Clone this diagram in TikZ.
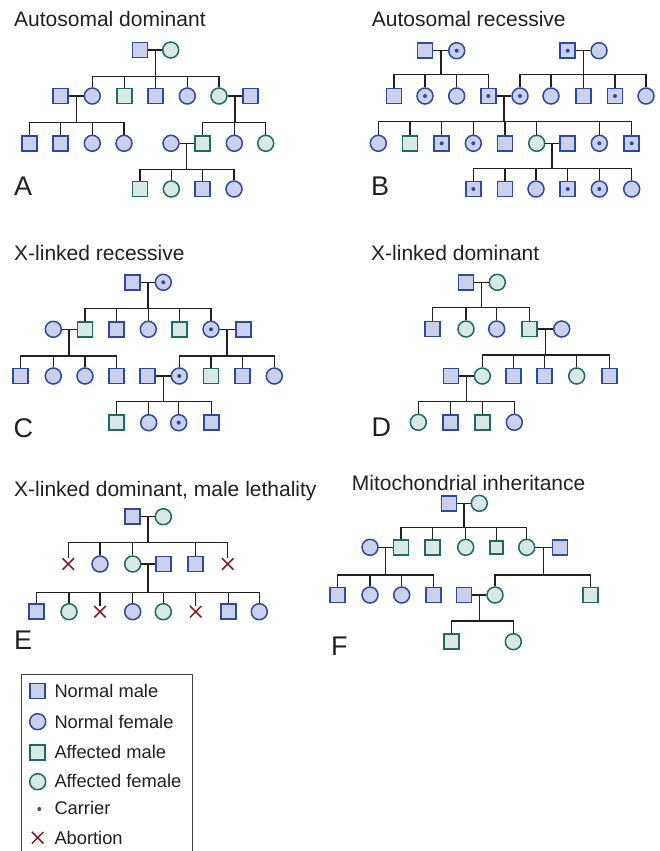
\documentclass[tikz,border=0pt]{standalone}
\usepackage{fontspec}
\setmainfont{Liberation Sans}
\usetikzlibrary{calc,shapes.misc}
\definecolor{lav}{HTML}{CBD0EC}
\definecolor{blu}{HTML}{2B4AA2}
\definecolor{tfill}{HTML}{D8E8E6}
\definecolor{tdraw}{HTML}{1E6B64}
\definecolor{lnc}{HTML}{231F20}
\definecolor{abr}{HTML}{8B1A22}
\tikzset{
 sym/.style={inner sep=0pt, line width=1.5pt},
 pnm/.style={sym, rectangle, minimum size=15pt, fill=lav, draw=blu},
 pnf/.style={sym, circle, minimum size=16pt, fill=lav, draw=blu},
 pam/.style={sym, rectangle, minimum size=15pt, fill=tfill, draw=tdraw},
 paf/.style={sym, circle, minimum size=16pt, fill=tfill, draw=tdraw},
 dotc/.style={path picture={\fill[blu] (path picture bounding box.center) circle (2pt);}},
 pcm/.style={pnm, dotc},
 pcf/.style={pnf, dotc},
 pab/.style={cross out, draw=abr, line width=1.5pt, inner sep=0pt, minimum size=10pt},
 conn/.style={draw=lnc, line width=1.5pt},
 ttl/.style={anchor=base west, inner sep=0pt, text=lnc, font=\fontsize{21}{25}\selectfont},
 plabel/.style={anchor=base west, inner sep=0pt, text=lnc, font=\fontsize{27}{30}\selectfont},
 leg/.style={anchor=base west, inner sep=0pt, text=lnc, font=\fontsize{18.3}{22}\selectfont},
}
\newcommand\pedfam[4]{%
 \draw[conn] (#1) -- (#2);
 \coordinate (#1m) at ($(#1)!0.5!(#2)$);
 \coordinate (#1y) at (0,#3);
 \coordinate (#1s) at (#1m |- #1y);
 \foreach \c in {#4} {\draw[conn] (#1m) -- (#1s) -| (\c);}
}
\begin{document}
\begin{tikzpicture}[x=1pt,y=-1pt]
\useasboundingbox (0,0) rectangle (660,851);
% titles
\node[ttl] (tA) at (14,27) {Autosomal dominant};
\node[ttl] (tB) at (371.7,26.7) {Autosomal recessive};
\node[ttl] (tC) at (14,260) {X-linked recessive};
\node[ttl] (tD) at (371,260) {X-linked dominant};
\node[ttl] (tE) at (14,496) {X-linked dominant, male lethality};
\node[ttl] (tF) at (351.7,490) {Mitochondrial inheritance};
\node[plabel] (lA) at (14,195.7) {A};
\node[plabel] (lB) at (371,195.7) {B};
\node[plabel] (lC) at (13.5,437) {C};
\node[plabel] (lD) at (371.5,436.7) {D};
\node[plabel] (lE) at (14,649) {E};
\node[plabel] (lF) at (331,655) {F};
% ---------- Panel A
\node[pnm] (a11) at (140,50) {};
\node[paf] (a12) at (170.7,50) {};
\node[pnm] (a21) at (60.7,96) {};
\node[pnf] (a22) at (92.3,96) {};
\node[pam] (a23) at (124.7,96) {};
\node[pnm] (a24) at (155.7,96) {};
\node[pnf] (a25) at (187.3,96) {};
\node[paf] (a26) at (219,96) {};
\node[pnm] (a27) at (250.7,96) {};
\node[pnm] (a31) at (29.3,143.3) {};
\node[pnm] (a32) at (60.7,143.3) {};
\node[pnf] (a33) at (92.3,143.3) {};
\node[pnf] (a34) at (124,143.3) {};
\node[pnf] (a35) at (171,143.3) {};
\node[pam] (a36) at (202.3,143.3) {};
\node[pnf] (a37) at (234.3,143.3) {};
\node[paf] (a38) at (265.7,143.3) {};
\node[pam] (a41) at (140,189) {};
\node[paf] (a42) at (171.3,189) {};
\node[pnm] (a43) at (202.7,189) {};
\node[pnf] (a44) at (234,189) {};
\pedfam{a11}{a12}{76.7}{a22,a23,a24,a25,a26}
\pedfam{a21}{a22}{122.7}{a31,a32,a33,a34}
\pedfam{a26}{a27}{122.7}{a36,a37,a38}
\pedfam{a35}{a36}{169.3}{a41,a42,a43,a44}
% ---------- Panel B
\node[pnm] (b11) at (425,50.7) {};
\node[pcf] (b12) at (456.7,50.7) {};
\node[pcm] (b13) at (567.7,50.7) {};
\node[pnf] (b14) at (599,50.7) {};
\node[pnm] (b21) at (394,96) {};
\node[pcf] (b22) at (425,96) {};
\node[pnf] (b23) at (456.7,96) {};
\node[pcm] (b24) at (488.3,96) {};
\node[pcf] (b25) at (520,96) {};
\node[pnf] (b26) at (551,96) {};
\node[pnm] (b27) at (583.3,96) {};
\node[pcm] (b28) at (615,96) {};
\node[pnf] (b29) at (646,96) {};
\node[pnf] (b31) at (378.3,143.3) {};
\node[pam] (b32) at (410,143.3) {};
\node[pcm] (b33) at (441.7,143.3) {};
\node[pcf] (b34) at (473.3,143.3) {};
\node[pnm] (b35) at (505,143.3) {};
\node[paf] (b36) at (536.7,143.3) {};
\node[pnm] (b37) at (567.7,143.3) {};
\node[pcf] (b38) at (599.3,143.3) {};
\node[pcm] (b39) at (631.7,143.3) {};
\node[pcm] (b41) at (473.3,189) {};
\node[pnm] (b42) at (505,189) {};
\node[pnf] (b43) at (536,189) {};
\node[pcm] (b44) at (567.7,189) {};
\node[pcf] (b45) at (599.3,189) {};
\node[pnf] (b46) at (631.7,189) {};
\pedfam{b11}{b12}{74.3}{b21,b22,b23,b24}
\pedfam{b13}{b14}{74.3}{b25,b26,b27,b28,b29}
\pedfam{b24}{b25}{121.7}{b31,b32,b33,b34,b35,b36,b38,b39}
\pedfam{b36}{b37}{168.3}{b41,b42,b43,b44,b45,b46}
% ---------- Panel C
\node[pnm] (c11) at (132.7,282.3) {};
\node[pcf] (c12) at (163.3,282.3) {};
\node[pnf] (c21) at (53.3,329.3) {};
\node[pam] (c22) at (85,329.3) {};
\node[pnm] (c23) at (116.7,329.3) {};
\node[pnf] (c24) at (148.3,329.3) {};
\node[pam] (c25) at (179.3,329.3) {};
\node[pcf] (c26) at (211,329.3) {};
\node[pnm] (c27) at (243.3,329.3) {};
\node[pnm] (c31) at (20.7,376) {};
\node[pnf] (c32) at (53.3,376) {};
\node[pnf] (c33) at (85,376) {};
\node[pnm] (c34) at (116.7,376) {};
\node[pnm] (c35) at (147.3,376) {};
\node[pcf] (c36) at (179.3,376) {};
\node[pam] (c37) at (211,376) {};
\node[pnm] (c38) at (242.3,376) {};
\node[pnf] (c39) at (274.3,376) {};
\node[pam] (c41) at (116.7,422.7) {};
\node[pnf] (c42) at (148.7,422.7) {};
\node[pcf] (c43) at (178.7,422.7) {};
\node[pnm] (c44) at (211.7,422.7) {};
\pedfam{c11}{c12}{308.7}{c22,c23,c24,c25,c26}
\pedfam{c21}{c22}{356}{c31,c32,c33,c34}
\pedfam{c26}{c27}{356}{c36,c37,c38,c39}
\pedfam{c35}{c36}{401.7}{c41,c42,c43,c44}
% ---------- Panel D
\node[pnm] (d11) at (466,282.3) {};
\node[paf] (d12) at (497.3,282.3) {};
\node[pnm] (d21) at (432.7,329) {};
\node[paf] (d22) at (466,329) {};
\node[pnf] (d23) at (496.7,329) {};
\node[pam] (d24) at (529.3,329) {};
\node[pnf] (d25) at (561.7,329) {};
\node[pnm] (d31) at (451,376) {};
\node[paf] (d32) at (482.3,376) {};
\node[pnm] (d33) at (513.3,376) {};
\node[pnm] (d34) at (544.3,376) {};
\node[paf] (d35) at (576.7,376) {};
\node[pnm] (d36) at (609.3,376) {};
\node[paf] (d41) at (418.3,422.3) {};
\node[pnm] (d42) at (450.7,422.3) {};
\node[pam] (d43) at (482.3,422.3) {};
\node[pnf] (d44) at (514.3,422.3) {};
\pedfam{d11}{d12}{307.7}{d21,d22,d23,d24}
\pedfam{d24}{d25}{355}{d32,d33,d34,d35,d36}
\pedfam{d31}{d32}{401.7}{d41,d42,d43,d44}
% ---------- Panel E
\node[pnm] (e11) at (132.7,516.7) {};
\node[paf] (e12) at (163.3,516.7) {};
\node[pab] (e21) at (68.3,564) {};
\node[pnf] (e22) at (100,564) {};
\node[paf] (e23) at (132.7,564) {};
\node[pnm] (e24) at (163.3,564) {};
\node[pnm] (e25) at (195.7,564) {};
\node[pab] (e26) at (227.7,564) {};
\node[pnm] (e31) at (36.7,611.7) {};
\node[paf] (e32) at (69,611.7) {};
\node[pab] (e33) at (100,611.7) {};
\node[pnf] (e34) at (132.7,611.7) {};
\node[paf] (e35) at (163.3,611.7) {};
\node[pab] (e36) at (195.7,611.7) {};
\node[pnm] (e37) at (228.3,611.7) {};
\node[pnf] (e38) at (259.3,611.7) {};
\pedfam{e11}{e12}{542.7}{e21,e22,e23,e25,e26}
\pedfam{e23}{e24}{592.3}{e31,e32,e33,e34,e35,e36,e37,e38}
% ---------- Panel F
\node[pnm] (f11) at (449,503.3) {};
\node[paf] (f12) at (479.3,503.3) {};
\node[pnf] (f21) at (370,547.3) {};
\node[pam] (f22) at (401,547.3) {};
\node[pam] (f23) at (432.7,547.3) {};
\node[paf] (f24) at (465.7,547.3) {};
\node[pam, minimum size=13pt] (f25) at (496.7,547.3) {};
\node[paf] (f26) at (526.7,547.3) {};
\node[pnm] (f27) at (560,547.3) {};
\node[pnm] (f31) at (337.3,595) {};
\node[pnf] (f32) at (370,595) {};
\node[pnf] (f33) at (401.7,595) {};
\node[pnm] (f34) at (433.3,595) {};
\node[pnm] (f35) at (464,595) {};
\node[paf] (f36) at (495,595) {};
\node[pam] (f37) at (590.7,595) {};
\node[pam] (f41) at (451.7,641.7) {};
\node[paf] (f42) at (513.3,641.7) {};
\pedfam{f11}{f12}{527.7}{f22,f23,f24,f25,f26}
\pedfam{f21}{f22}{575}{f31,f32,f33,f34}
\pedfam{f26}{f27}{575}{f36,f37}
\pedfam{f35}{f36}{621}{f41,f42}
% ---------- Legend
\draw[line width=1pt, draw=lnc!85] (21,852) -- (21,674.3) -- (192.3,674.3) -- (192.3,852);
\node[pnm] (g1) at (37.7,691) {};
\node[leg] (g1t) at (54.3,697.3) {Normal male};
\node[pnf] (g2) at (37.7,721.7) {};
\node[leg] (g2t) at (54.3,728.3) {Normal female};
\node[pam] (g3) at (37.7,752.3) {};
\node[leg] (g3t) at (54.3,758.3) {Affected male};
\node[paf] (g4) at (37.7,781.7) {};
\node[leg] (g4t) at (54.3,787.7) {Affected female};
\node[circle, fill=blu, inner sep=0pt, minimum size=4pt] (g5) at (39.3,809) {};
\node[leg] (g5t) at (54.3,814.3) {Carrier};
\node[pab] (g6) at (37.7,837.7) {};
\node[leg] (g6t) at (54.3,844) {Abortion};
\end{tikzpicture}
\end{document}
